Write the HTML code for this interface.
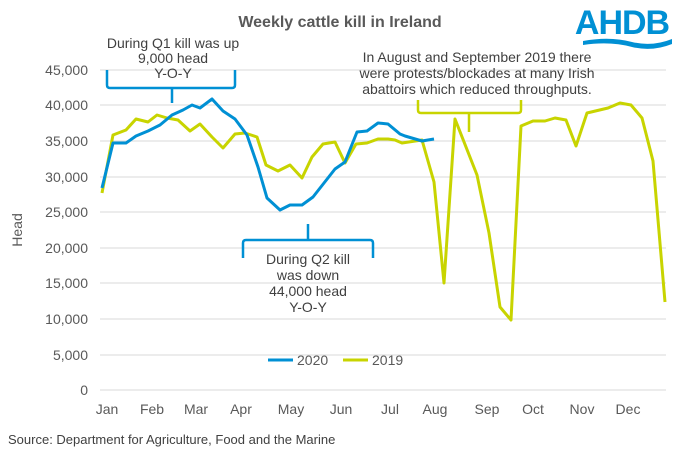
<!DOCTYPE html><html><head><style>body{margin:0;background:#fff}svg{display:block;font-family:"Liberation Sans",sans-serif}</style></head><body>
<svg width="680" height="456" xmlns="http://www.w3.org/2000/svg">
<text x="340" y="27" text-anchor="middle" font-size="16" font-weight="bold" fill="#595959">Weekly cattle kill in Ireland</text>
<text x="622" y="34" text-anchor="middle" font-size="34" font-weight="bold" fill="#0090d4" letter-spacing="-1">AHDB</text>
<path d="M583 41 Q610 36 632 42 Q652 47 672 39 L672 44 Q652 52 632 47 Q610 41 583 45Z" fill="#0090d4"/>
<g stroke="#d9d9d9" stroke-width="1">
<line x1="100" x2="666" y1="70" y2="70"/><line x1="100" x2="666" y1="105" y2="105"/><line x1="100" x2="666" y1="141" y2="141"/><line x1="100" x2="666" y1="177" y2="177"/><line x1="100" x2="666" y1="212" y2="212"/><line x1="100" x2="666" y1="248" y2="248"/><line x1="100" x2="666" y1="283" y2="283"/><line x1="100" x2="666" y1="319" y2="319"/><line x1="100" x2="666" y1="355" y2="355"/><line x1="100" x2="666" y1="390" y2="390"/></g>
<g font-size="14" fill="#595959" text-anchor="end">
<text x="88" y="75">45,000</text><text x="88" y="110">40,000</text><text x="88" y="146">35,000</text><text x="88" y="182">30,000</text><text x="88" y="217">25,000</text><text x="88" y="253">20,000</text><text x="88" y="288">15,000</text><text x="88" y="324">10,000</text><text x="88" y="360">5,000</text><text x="88" y="395">0</text></g>
<g font-size="14" fill="#595959" text-anchor="middle">
<text x="107" y="414">Jan</text><text x="152" y="414">Feb</text><text x="196" y="414">Mar</text><text x="241" y="414">Apr</text><text x="291" y="414">May</text><text x="341" y="414">Jun</text><text x="390" y="414">Jul</text><text x="435" y="414">Aug</text><text x="487" y="414">Sep</text><text x="533" y="414">Oct</text><text x="582" y="414">Nov</text><text x="628" y="414">Dec</text></g>
<text transform="translate(22,230) rotate(-90)" text-anchor="middle" font-size="14" fill="#595959">Head</text>
<text x="8" y="444" font-size="13" fill="#404040">Source: Department for Agriculture, Food and the Marine</text>
<polyline fill="none" stroke="#c8d400" stroke-width="3" stroke-linejoin="round" points="102,193 113,135 126,130 136,119 148,122 157,115 167,118 178,120 190,131 200,124 212,137 223,148 235,134 245,133 257,137 266,165 278,171 290,165 302,178 312,157 323,144 335,142 345,163 356,144 367,143 378,139 388,139 395,140 402,143 422,140 434,182 444,283 455,119 477,175 489,233 500,307 511,320 521,126 533,121 545,121 555,118 566,120 576,146 587,113 608,108 620,103 631,105 642,118 653,161 665,302"/>
<polyline fill="none" stroke="#0090d4" stroke-width="3" stroke-linejoin="round" points="102,188 113,143 126,143 136,136 148,131 160,125 172,115 183,110 192,105 200,108 212,99 223,111 235,119 247,135 258,167 267,198 280,210 290,205 302,205 313,197 335,169 345,162 357,132 367,131 378,123 388,124 400,134 405,136 422,141 434,139"/>
<g fill="none" stroke="#0090d4" stroke-width="2.5">
<path d="M107 70 V85 Q107 88 110 88 H232 Q235 88 235 85 V70 M172 88 V103"/>
<path d="M243 258 V243 Q243 240 246 240 H370 Q373 240 373 243 V258 M308 240 V224"/></g>
<path d="M418 100 V110 Q418 113 421 113 H518 Q521 113 521 110 V100 M469 113 V132" fill="none" stroke="#c8d400" stroke-width="2.5"/>
<g font-size="14" fill="#404040" text-anchor="middle">
<text x="173" y="48">During Q1 kill was up</text><text x="173" y="63">9,000 head</text><text x="173" y="78">Y-O-Y</text>
<text x="308" y="264">During Q2 kill</text><text x="308" y="280">was down</text><text x="308" y="296">44,000 head</text><text x="308" y="312">Y-O-Y</text>
<text x="477" y="62">In August and September 2019 there</text><text x="477" y="78">were protests/blockades at many Irish</text><text x="477" y="94">abattoirs which reduced throughputs.</text></g>
<line x1="268" x2="293" y1="360" y2="360" stroke="#0090d4" stroke-width="3"/><text x="297" y="365" font-size="14" fill="#595959">2020</text>
<line x1="343" x2="368" y1="360" y2="360" stroke="#c8d400" stroke-width="3"/><text x="372" y="365" font-size="14" fill="#595959">2019</text>
</svg></body></html>
